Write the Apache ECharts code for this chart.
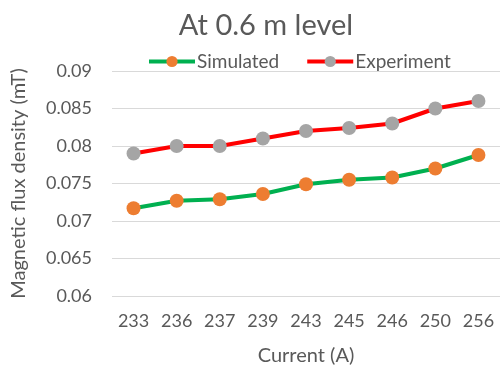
<!DOCTYPE html>
<html>
<head>
<meta charset="utf-8">
<script src="https://cdn.jsdelivr.net/npm/echarts@6/dist/echarts.min.js"></script>
<style>
  html, body { margin: 0; padding: 0; background: #fff; }
  #chart { width: 501px; height: 367px; }
</style>
</head>
<body>
<div id="chart"></div>
<script>
// Current values (A) along the x axis
const currents = ['233', '236', '237', '239', '243', '245', '246', '250', '256'];
// Magnetic flux density (mT) at the 0.6 m level
const simulated = [0.0717, 0.0727, 0.0729, 0.0736, 0.0749, 0.0755, 0.0758, 0.0770, 0.0788];
const experiment = [0.0790, 0.0800, 0.0800, 0.0810, 0.0820, 0.0824, 0.0830, 0.0850, 0.0860];

const font = 'Lato, "Open Sans", sans-serif';
const chart = echarts.init(document.getElementById('chart'));

chart.setOption({
  animation: false,
  title: {
    text: 'At 0.6 m level',
    left: 261,
    top: 6,
    textAlign: 'center',
    textStyle: { fontFamily: font, fontSize: 29, fontWeight: 'normal', color: '#595959' }
  },
  legend: {
    top: 47,
    left: 142,
    itemWidth: 46,
    itemHeight: 14,
    itemGap: 26,
    textStyle: { fontFamily: font, fontSize: 19, color: '#595959', padding: [0, 0, 0, -3] },
    data: [
      { name: 'Simulated', lineStyle: { width: 4, color: '#00b050' } },
      { name: 'Experiment', lineStyle: { width: 4, color: '#ff0000' } }
    ]
  },
  grid: { left: 112, right: 1, top: 71, bottom: 71, outerBoundsMode: 'none', containLabel: false },
  xAxis: {
    type: 'category',
    data: currents,
    boundaryGap: true,
    name: 'Current (A)',
    nameLocation: 'middle',
    nameGap: 50,
    nameTextStyle: { fontFamily: font, fontSize: 20, color: '#595959' },
    axisLine: { show: false },
    axisTick: { show: false },
    axisLabel: { fontFamily: font, fontSize: 18, color: '#595959', margin: 16 }
  },
  yAxis: {
    type: 'value',
    min: 0.06,
    max: 0.09,
    interval: 0.005,
    name: 'Magnetic flux density (mT)',
    nameLocation: 'middle',
    nameGap: 83,
    nameTextStyle: { fontFamily: font, fontSize: 20, color: '#595959' },
    axisLine: { show: false },
    axisTick: { show: false },
    splitLine: { lineStyle: { color: '#d9d9d9', width: 1 } },
    axisLabel: {
      fontFamily: font, fontSize: 18, color: '#595959', margin: 20,
      formatter: v => String(parseFloat(v.toFixed(3)))
    }
  },
  series: [
    {
      name: 'Simulated',
      type: 'line',
      data: simulated,
      symbol: 'circle',
      symbolSize: 14,
      lineStyle: { color: '#00b050', width: 4 },
      itemStyle: { color: '#ed7d31', borderWidth: 0 },
      color: '#ed7d31'
    },
    {
      name: 'Experiment',
      type: 'line',
      data: experiment,
      symbol: 'circle',
      symbolSize: 14,
      lineStyle: { color: '#ff0000', width: 4 },
      itemStyle: { color: '#a5a5a5', borderWidth: 0 },
      color: '#a5a5a5'
    }
  ]
});
</script>
</body>
</html>
